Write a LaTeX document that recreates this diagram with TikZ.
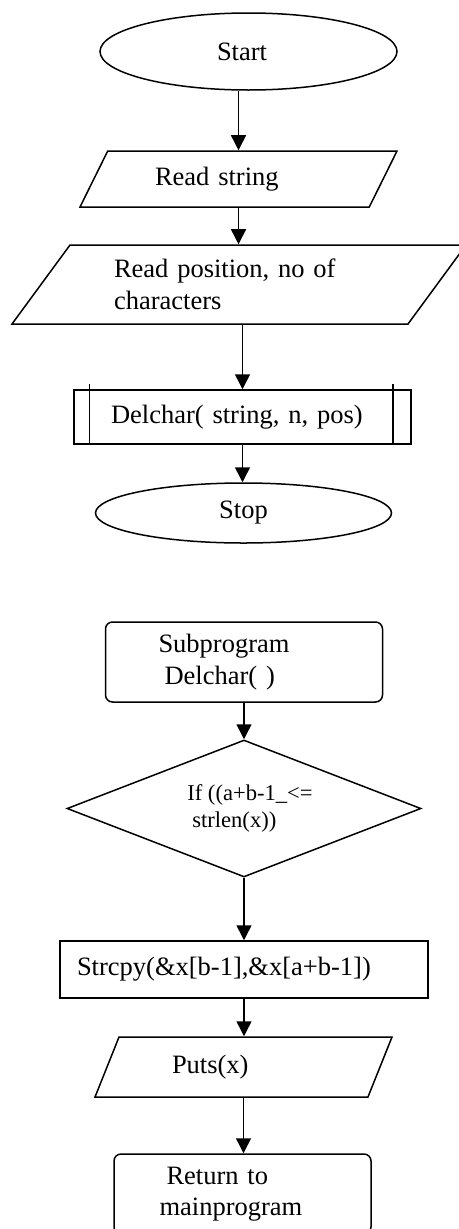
\documentclass[tikz,border=0pt]{standalone}
\usepackage{fontspec}
\setmainfont{Liberation Serif}
\usetikzlibrary{shapes.geometric,arrows.meta}
\tikzstyle{terminal}=[ellipse, draw, inner sep=0pt]
\tikzstyle{io}=[trapezium, draw, trapezium stretches body, inner sep=0pt]
\tikzstyle{process}=[rectangle, draw, inner sep=0pt]
\tikzstyle{boxed}=[rectangle, draw, rounded corners=7pt, inner sep=0pt]
\tikzstyle{decision}=[diamond, draw, aspect=2.58, inner sep=0pt]
\tikzset{flow/.style={-{Triangle[length=15pt,width=15pt]}}}

\begin{document}
\begin{tikzpicture}[x=1pt,y=-1pt,line width=1.5pt,font=\fontsize{26.5}{31.5}\selectfont]
  \useasboundingbox (0,0) rectangle (458,1229);
  %% Main program
  \draw (248.5,51.5) node[terminal,minimum width=297pt,minimum height=77pt,text width=63pt,align=left] (start) {Start};
  \draw (238.5,179) node[io,trapezium left angle=41,trapezium right angle=139,minimum width=317pt,minimum height=56pt,text width=167pt,align=left] (rs) {Read string};
  \draw (239,284.5) node[io,trapezium left angle=41,trapezium right angle=139,minimum width=454pt,minimum height=79pt,text width=250pt,align=left] (rp) {Read position, no of\\characters};
  \draw (242.5,417) node[process,minimum width=337pt,minimum height=54pt,text width=263pt,align=left] (dc) {Delchar( string, n, pos)};
  \draw ([xshift=16pt,yshift=5pt]dc.north west) -- ([xshift=16pt]dc.south west);
  \draw ([xshift=-19pt,yshift=5pt]dc.north east) -- ([xshift=-19pt]dc.south east);
  \draw (243.5,513) node[terminal,minimum width=296pt,minimum height=60pt] (stop) {Stop};

  %% Subprogram
  \draw (244,662) node[boxed,minimum width=277pt,minimum height=80pt,text width=171pt,align=left] (sub) {Subprogram\\\hspace*{6pt}Delchar( )};
  \draw (244,808.5) node[decision,minimum width=354pt,minimum height=137pt,align=left,font=\fontsize{22.6}{27}\selectfont] (if) {\hspace*{12pt}If ((a+b-1\_<=\\\hspace*{17pt}strlen(x))};
  \draw (244,969.5) node[process,minimum width=368pt,minimum height=57pt,text width=334pt,align=left] (cpy) {Strcpy(\&x[b-1],\&x[a+b-1])};
  \draw (243.5,1067) node[io,trapezium left angle=45,trapezium right angle=135,minimum width=297pt,minimum height=60pt,text width=143pt,align=left] (puts) {Puts(x)};
  \draw (242.5,1194) node[boxed,minimum width=257pt,minimum height=80pt,text width=166pt,align=left] (ret) {\hspace*{7pt}Return to\\mainprogram};

  \draw[flow] (start.south -| rs.north) -- (rs.north);
  \draw[flow] (rs.south) -- (rs.south |- rp.north);
  \draw[flow] (dc.north |- rp.south) -- (dc.north);
  \draw[flow] (dc.south) -- (dc.south |- stop.north);

  \draw[flow] (sub.south) -- (sub.south |- if.north);
  \draw[flow] (if.south) -- (if.south |- cpy.north);
  \draw[flow] (cpy.south) -- (cpy.south |- puts.north);
  \draw[flow] (puts.south) -- (puts.south |- ret.north);
\end{tikzpicture}
\end{document}
